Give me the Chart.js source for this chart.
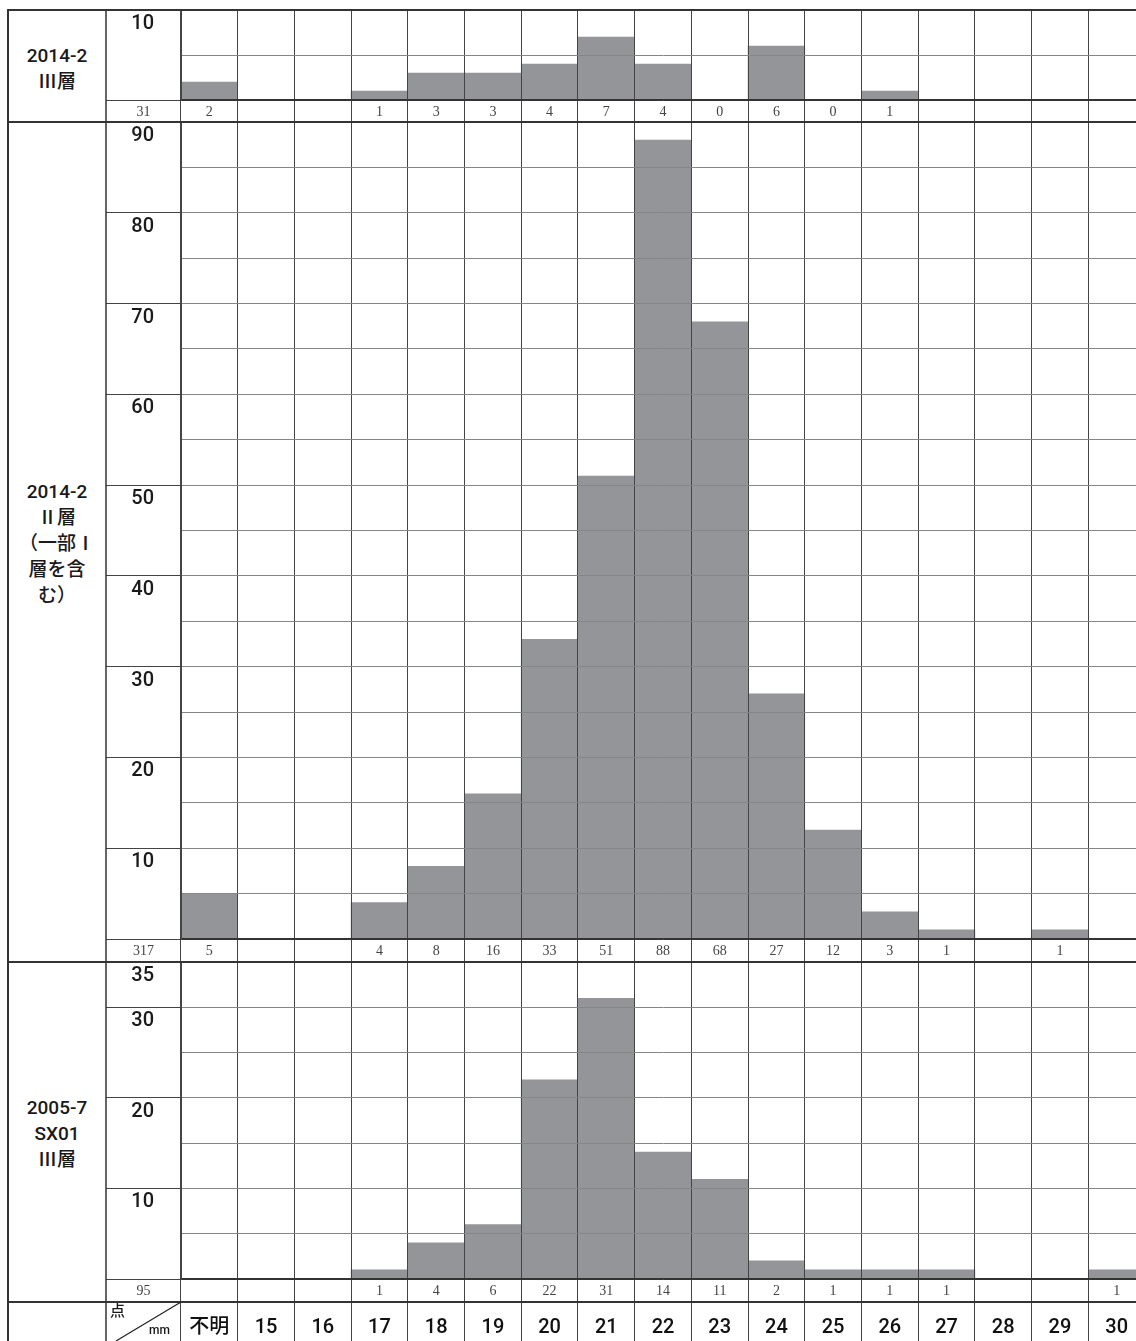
<!DOCTYPE html>
<html><head><meta charset="utf-8">
<script src="https://cdn.jsdelivr.net/npm/chart.js@4/dist/chart.umd.min.js"></script>
<style>
html,body{margin:0;padding:0;background:#fff;}
#wrap{position:relative;width:1136px;height:1341px;overflow:hidden;background:#fff;}
canvas{position:absolute;}
.lbl{position:absolute;left:8px;width:98px;display:flex;align-items:center;justify-content:center;text-align:center;font-family:Roboto,"Noto Sans CJK JP","Noto Sans",sans-serif;font-weight:500;font-size:19px;line-height:26px;color:#1a1a1a;}
.cell{position:absolute;font-family:Roboto,"Noto Sans CJK JP","Noto Sans",sans-serif;font-weight:500;color:#1a1a1a;}
svg{position:absolute;left:0;top:0;pointer-events:none;}
</style></head><body>
<div id="wrap">
<canvas id="c1"></canvas>
<canvas id="c2"></canvas>
<canvas id="c3"></canvas>
<div class="lbl" style="top:13px;height:112px"><div>2014-2<br>Ⅲ層</div></div>
<div class="lbl" style="top:124px;height:840px"><div>2014-2<br>Ⅱ層<br>（一部Ⅰ<br>層を含<br>む）</div></div>
<div class="lbl" style="top:964px;height:340px"><div>2005-7<br>SX01<br>Ⅲ層</div></div>
<div class="cell" style="left:110px;top:1301px;font-size:15px;line-height:20px;">点</div>
<div class="cell" style="left:149px;top:1322px;font-size:12px;line-height:16px;">mm</div>
<svg width="1136" height="1341">
  <line x1="8" y1="9" x2="8" y2="1341" stroke="#333" stroke-width="2"/>
  <line x1="106" y1="9" x2="106" y2="1341" stroke="#333" stroke-width="1.5"/>
  <line x1="7" y1="10" x2="1136" y2="10" stroke="#333" stroke-width="2"/>
  <line x1="7" y1="122" x2="1136" y2="122" stroke="#333" stroke-width="2"/>
  <line x1="7" y1="962" x2="1136" y2="962" stroke="#333" stroke-width="2"/>
  <line x1="7" y1="1302" x2="1136" y2="1302" stroke="#333" stroke-width="2"/>
  <line x1="116" y1="1341" x2="181" y2="1302" stroke="#222" stroke-width="1.2"/>
</svg>
</div>
<script>
// ---- data ----
const categories = ['不明','15','16','17','18','19','20','21','22','23','24','25','26','27','28','29','30'];
const valuesIII2014 = [2,null,null,1,3,3,4,7,4,0,6,0,1,null,null,null,null];
const valuesII2014  = [5,null,null,4,8,16,33,51,88,68,27,12,3,1,null,1,null];
const valuesSX01    = [null,null,null,1,4,6,22,31,14,11,2,1,1,1,null,null,1];
const totals = [31, 317, 95];
const yMax = [10, 90, 35];
const yTickLabels1 = [10];
const yTickLabels2 = [90,80,70,60,50,40,30,20,10];
const yTickLabels3 = [35,30,20,10];

// ---- styling ----
const sansFont = 'Roboto, "Noto Sans CJK JP", "Noto Sans", sans-serif';
const serifFont = '"Liberation Serif", "DejaVu Serif", serif';
const GRID_V = '#444', GRID_H = '#858585', DARK = '#333', BAR = '#939598';

const totalPlugin = {
  id: 'totals',
  afterDraw(chart, args, opts) {
    const ctx = chart.ctx, xs = chart.scales.x, ys = chart.scales.y;
    ctx.save();
    ctx.font = '14px ' + serifFont;
    ctx.fillStyle = '#444';
    ctx.textAlign = 'center';
    ctx.textBaseline = 'middle';
    ctx.fillText(String(opts.total), (ys.left + ys.right) / 2, xs.top + opts.rowH / 2 + 1);
    ctx.restore();
  }
};

function zeroPad(s) { s.paddingLeft = 0; s.paddingRight = 0; s.paddingTop = 0; s.paddingBottom = 0; }

function makeChart(id, cfg) {
  const canvas = document.getElementById(id);
  canvas.width = 1045; canvas.height = cfg.h;
  canvas.style.left = '106px'; canvas.style.top = cfg.top + 'px';
  canvas.style.width = '1045px'; canvas.style.height = cfg.h + 'px';
  const scales = {
    x: {
      type: 'category', position: 'bottom', offset: true, weight: 0,
      grid: { offset: true, color: GRID_V, lineWidth: 1, z: 1, drawTicks: true, tickLength: cfg.rowH, tickColor: GRID_V },
      border: { display: true, color: DARK, width: 1.5, z: 1 },
      ticks: {
        autoSkip: false, maxRotation: 0, minRotation: 0,
        padding: -cfg.rowH / 2 - 7.4, color: '#444',
        font: { family: serifFont, size: 14 },
        callback: (v, i) => (cfg.values[i] === null ? '' : String(cfg.values[i]))
      },
      afterFit(s) { s.height = cfg.rowH; zeroPad(s); }
    },
    y: {
      type: 'linear', position: 'left', min: 0, max: cfg.max,
      ticks: {
        stepSize: 5, autoSkip: false, crossAlign: 'center', padding: -48, labelOffset: 14,
        color: '#1a1a1a', font: { family: sansFont, size: 20, weight: '500' },
        callback: (v) => (cfg.yLabels.includes(v) ? String(v) : '')
      },
      grid: {
        z: 1, lineWidth: 1, drawTicks: true, tickLength: 75,
        color: (c) => (c.tick && c.tick.value === 0 ? DARK : GRID_H),
        tickColor: (c) => (c.tick && (c.tick.value === 0 || cfg.yLabels.includes(c.tick.value)) ? GRID_V : 'rgba(0,0,0,0)')
      },
      border: { display: true, color: GRID_V, z: 1 },
      afterFit(s) { s.width = 75; zeroPad(s); }
    }
  };
  if (cfg.catAxis) {
    scales.x2 = {
      type: 'category', labels: categories, position: 'bottom', offset: true, weight: 1,
      grid: { offset: true, drawOnChartArea: false, color: GRID_V, drawTicks: true, tickLength: 43, tickColor: GRID_V },
      border: { display: false },
      ticks: { autoSkip: false, maxRotation: 0, minRotation: 0, padding: -29, color: '#111', font: { family: sansFont, size: 20, weight: '500' } },
      afterFit(s) { s.height = 43; zeroPad(s); }
    };
  }
  return new Chart(canvas, {
    type: 'bar',
    data: {
      labels: categories,
      datasets: [{ data: cfg.values, backgroundColor: BAR, borderWidth: 0, barPercentage: 1, categoryPercentage: 1 }]
    },
    options: {
      responsive: false, maintainAspectRatio: false, animation: false, devicePixelRatio: 1,
      layout: { padding: { top: 5, right: 6, bottom: cfg.padBottom, left: 0 } },
      plugins: { legend: { display: false }, tooltip: { enabled: false }, totals: { total: cfg.total, rowH: cfg.rowH } },
      scales
    },
    plugins: [totalPlugin]
  });
}

makeChart('c1', { top: 5, h: 118, padBottom: 1, rowH: 22, values: valuesIII2014, total: totals[0], max: yMax[0], yLabels: yTickLabels1 });
makeChart('c2', { top: 117, h: 846, padBottom: 1, rowH: 23, values: valuesII2014, total: totals[1], max: yMax[1], yLabels: yTickLabels2 });
makeChart('c3', { top: 957, h: 388, padBottom: 0, rowH: 23, values: valuesSX01, total: totals[2], max: yMax[2], yLabels: yTickLabels3, catAxis: true });
</script>
</body></html>
